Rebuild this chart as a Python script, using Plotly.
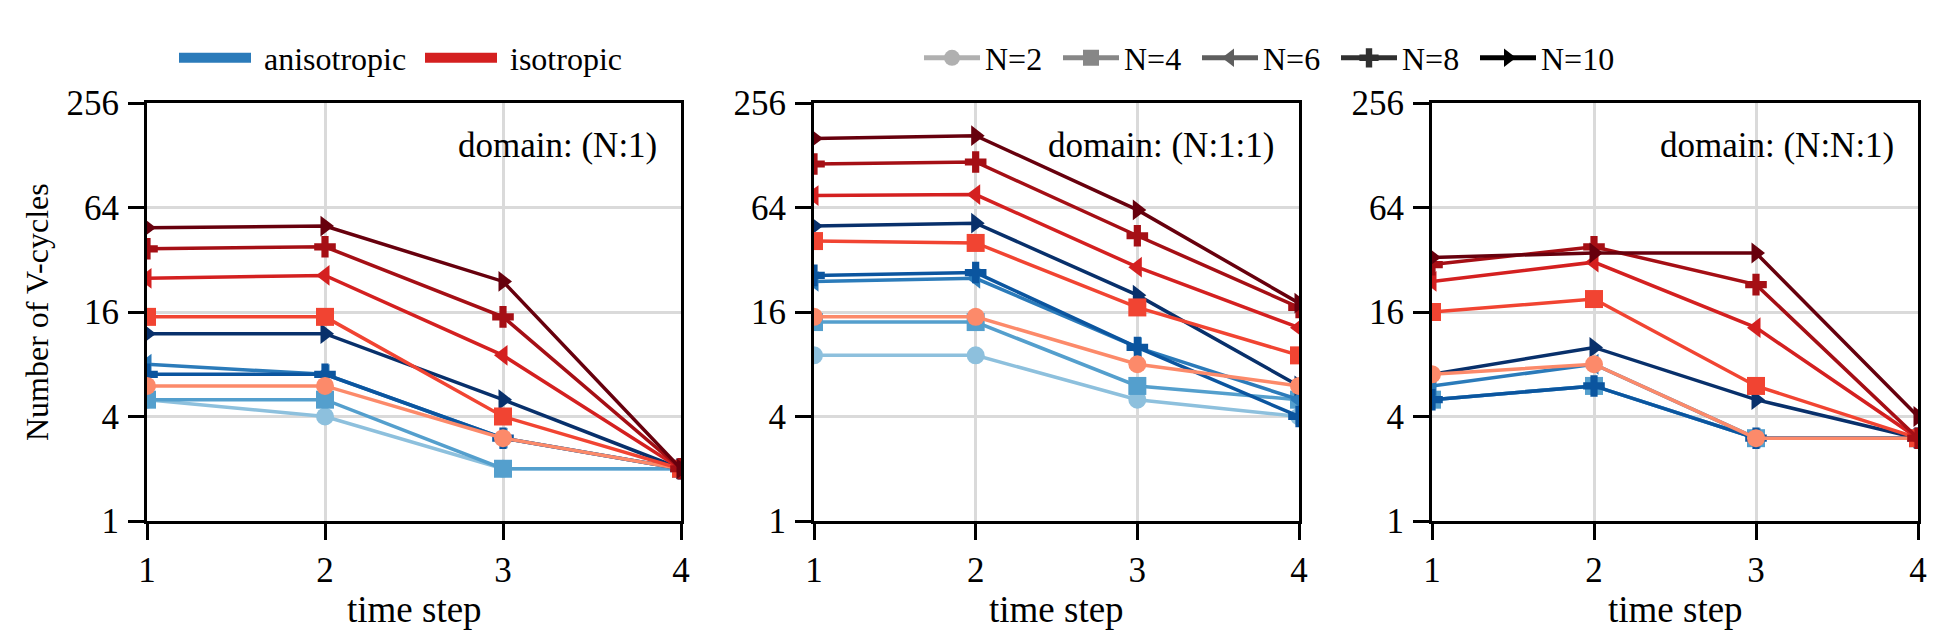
import plotly.graph_objects as go

# ---------------- data ----------------
steps = [1, 2, 3, 4]
n_labels = ["N=2", "N=4", "N=6", "N=8", "N=10"]
panel_titles = ["domain: (N:1)", "domain: (N:1:1)", "domain: (N:N:1)"]

# panel 1: domain (N:1)
p1_aniso = [
    [5, 4, 2, 2],
    [5, 5, 2, 2],
    [8, 7, 3, 2],
    [7, 7, 3, 2],
    [12, 12, 5, 2],
]
p1_iso = [
    [6, 6, 3, 2],
    [15, 15, 4, 2],
    [25, 26, 9, 2],
    [37, 38, 15, 2],
    [49, 50, 24, 2],
]
# panel 2: domain (N:1:1)
p2_aniso = [
    [9, 9, 5, 4],
    [14, 14, 6, 5],
    [24, 25, 10, 5],
    [26, 27, 10, 4],
    [50, 52, 20, 6],
]
p2_iso = [
    [15, 15, 8, 6],
    [41, 40, 17, 9],
    [75, 76, 29, 13],
    [114, 117, 44, 17],
    [160, 166, 62, 18],
]
# panel 3: domain (N:N:1)
p3_aniso = [
    [5, 6, 3, 3],
    [5, 6, 3, 3],
    [6, 8, 3, 3],
    [5, 6, 3, 3],
    [7, 10, 5, 3],
]
p3_iso = [
    [7, 8, 3, 3],
    [16, 19, 6, 3],
    [24, 31, 13, 3],
    [30, 38, 23, 3],
    [33, 35, 35, 4],
]
y_ticks = [1, 4, 16, 64, 256]
x_ticks = [1, 2, 3, 4]

# ---------------- style ----------------
blues = ["#8dc0dd", "#549fcd", "#2b7bba", "#0b559f", "#08306b"]
reds = ["#fc8a6a", "#f14432", "#d42020", "#a50f15", "#67000d"]
greys = ["#b0b0b0", "#878787", "#5e5e5e", "#303030", "#000000"]
symbols = ["circle", "square", "triangle-left", "cross", "triangle-right"]
FONT = "Liberation Serif, serif"
FS = 35
FS_LEG = 32
NBSP = "\u00a0"

W, H = 1937, 637
panel_px = [(147, 681), (814, 1299), (1432, 1918)]
top_px, bot_px = 103, 521

fig = go.Figure()

panels = [(p1_aniso, p1_iso), (p2_aniso, p2_iso), (p3_aniso, p3_iso)]
for pi, (aniso, iso) in enumerate(panels):
    ax = "" if pi == 0 else str(pi + 1)
    for data, cols in ((aniso, blues), (iso, reds)):
        for k, vals in enumerate(data):
            fig.add_trace(go.Scatter(
                x=steps, y=vals, mode="lines+markers",
                line=dict(color=cols[k], width=3.5),
                marker=dict(symbol=symbols[k], size=18, color=cols[k],
                            line=dict(width=0)),
                showlegend=False, xaxis="x" + ax, yaxis="y" + ax,
            ))

# legend 1: anisotropic / isotropic
for name, col in (("anisotropic", "#2b7bba"), ("isotropic", "#d42020")):
    fig.add_trace(go.Scatter(
        x=[None], y=[None], mode="lines", name=NBSP + name,
        line=dict(color=col, width=10), legend="legend",
        xaxis="x", yaxis="y",
    ))
# legend 2: N
for k, lab in enumerate(n_labels):
    fig.add_trace(go.Scatter(
        x=[None], y=[None], mode="lines+markers", name=lab,
        line=dict(color=greys[k], width=5),
        marker=dict(symbol=symbols[k], size=18, color=greys[k], line=dict(width=0)),
        legend="legend2", xaxis="x", yaxis="y",
    ))

axis_common = dict(
    showline=True, linecolor="black", linewidth=3, mirror=True,
    ticks="outside", ticklen=16, tickwidth=3, tickcolor="black",
    showgrid=True, gridcolor="#dadada", gridwidth=2.5, zeroline=False,
    tickfont=dict(family=FONT, size=FS, color="black"),
    automargin=False,
)

legend_font = dict(family=FONT, size=FS_LEG, color="black")
layout = dict(
    width=W, height=H,
    margin=dict(l=0, r=0, t=0, b=0, pad=0, autoexpand=False),
    paper_bgcolor="white", plot_bgcolor="white",
    font=dict(family=FONT, size=FS, color="black"),
    legend=dict(orientation="h", x=174 / W, y=1 - 58 / H, xanchor="left",
                yanchor="middle", bgcolor="rgba(0,0,0,0)",
                font=legend_font, itemwidth=72, entrywidth=159,
                entrywidthmode="pixels"),
    legend2=dict(orientation="h", x=919 / W, y=1 - 58 / H, xanchor="left",
                 yanchor="middle", bgcolor="rgba(0,0,0,0)",
                 font=legend_font, itemwidth=56, entrywidth=68,
                 entrywidthmode="pixels"),
    annotations=[],
)

for pi, (x0, x1) in enumerate(panel_px):
    ax = "" if pi == 0 else str(pi + 1)
    layout["xaxis" + ax] = dict(
        axis_common, domain=[x0 / W, x1 / W], range=[1, 4],
        tickvals=x_ticks, ticktext=[str(v) for v in x_ticks],
        anchor="y" + ax, ticklabelstandoff=0,
    )
    layout["yaxis" + ax] = dict(
        axis_common, domain=[1 - bot_px / H, 1 - top_px / H], type="log",
        range=[0, 2.40824], tickvals=y_ticks, ticktext=[str(v) for v in y_ticks],
        anchor="x" + ax, ticklabelstandoff=2,
    )
    layout["annotations"].append(dict(
        text=panel_titles[pi], xref="paper", yref="paper",
        x=(x1 - 22) / W, y=1 - 146 / H, xanchor="right", yanchor="middle",
        showarrow=False, font=dict(family=FONT, size=FS),
    ))
    layout["annotations"].append(dict(
        text="time step", xref="paper", yref="paper",
        x=(x0 + x1) / 2 / W, y=1 - 609 / H, xanchor="center", yanchor="middle",
        showarrow=False, font=dict(family=FONT, size=37),
    ))

layout["annotations"].append(dict(
    text="Number of V-cycles", xref="paper", yref="paper",
    x=37 / W, y=1 - 312 / H, xanchor="center", yanchor="middle",
    textangle=-90, showarrow=False, font=dict(family=FONT, size=32),
))

fig.update_layout(**layout)
fig.write_html("out.html")
